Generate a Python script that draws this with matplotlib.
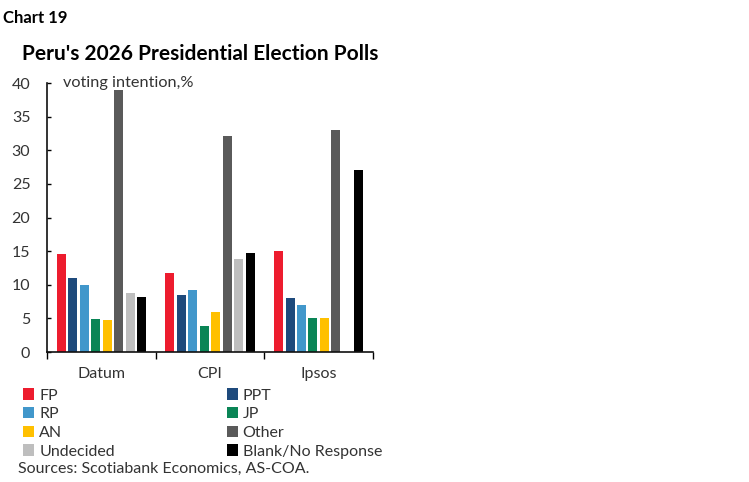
import numpy as np
import matplotlib.pyplot as plt
from matplotlib.patches import Patch

plt.rcParams['font.family'] = ['Lato', 'DejaVu Sans']

# Poll results, % voting intention
pollsters = ['Datum', 'CPI', 'Ipsos']
series = ['FP', 'PPT', 'RP', 'JP', 'AN', 'Other', 'Undecided', 'Blank/No Response']
fp = [14.5, 11.8, 15.0]
ppt = [11.0, 8.5, 8.0]
rp = [9.9, 9.2, 7.0]
jp = [4.9, 3.8, 5.0]
an = [4.7, 6.0, 5.0]
other = [39.0, 32.1, 33.0]
undecided = [8.7, 13.9, np.nan]
blank = [8.2, 14.7, 27.0]
colors = ['#ED1C2E', '#1E4A7C', '#4197CB', '#0A8556', '#FFC000', '#5A5A5A', '#BEBEBE', '#000000']

values = [fp, ppt, rp, jp, an, other, undecided, blank]

fig = plt.figure(figsize=(7.49, 4.82), dpi=100)
ax = fig.add_axes([0.0628, 0.2697, 0.4352, 0.5581])

x = np.arange(len(pollsters))
pitch = 0.1055
for i, (vals, col) in enumerate(zip(values, colors)):
    offs = (i - 3.5) * pitch
    ax.bar(x + offs, vals, width=0.083, color=col, zorder=2)

ax.set_xlim(-0.5, 2.5)
ax.set_ylim(0, 40)
ax.set_yticks(range(0, 41, 5))
ax.tick_params(axis='y', direction='in', length=3, width=1, labelsize=11.5,
               labelcolor='#333333', pad=12)
ax.set_xticks(x)
ax.set_xticklabels(pollsters)
ax.set_xticks([-0.5, 0.5, 1.5, 2.5], minor=True)
ax.tick_params(axis='x', which='major', length=0, labelsize=11.5,
               labelcolor='#333333', pad=11)
ax.tick_params(axis='x', which='minor', direction='out', length=5, width=1)
for s in ['top', 'right']:
    ax.spines[s].set_visible(False)
for s in ['left', 'bottom']:
    ax.spines[s].set_linewidth(1.2)
    ax.spines[s].set_color('#111111')

ax.text(0.048, 1.0, 'voting intention,%', transform=ax.transAxes, fontsize=11.7,
        color='#333333', va='center', ha='left')

fig.text(0.004, 0.962, 'Chart 19', fontsize=12, fontweight='bold', va='center')
fig.text(0.029, 0.888, "Peru's 2026 Presidential Election Polls", fontsize=15,
         fontweight='bold', va='center')

handles = [Patch(facecolor=c, label=s) for s, c in zip(series, colors)]
order = [0, 2, 4, 6, 1, 3, 5, 7]
fig.legend([handles[i] for i in order], [series[i] for i in order], ncol=2,
           loc='upper left', bbox_to_anchor=(0.031, 0.194),
           bbox_transform=fig.transFigure, frameon=False, fontsize=11.5,
           handlelength=0.7, handleheight=0.7, handletextpad=0.3,
           columnspacing=7.0, labelspacing=0.28, borderaxespad=0,
           borderpad=0, labelcolor='#333333')
fig.text(0.024, 0.028, 'Sources: Scotiabank Economics, AS-COA.', fontsize=11.5,
         color='#333333', va='center')

fig.savefig('out.png', dpi=100)
